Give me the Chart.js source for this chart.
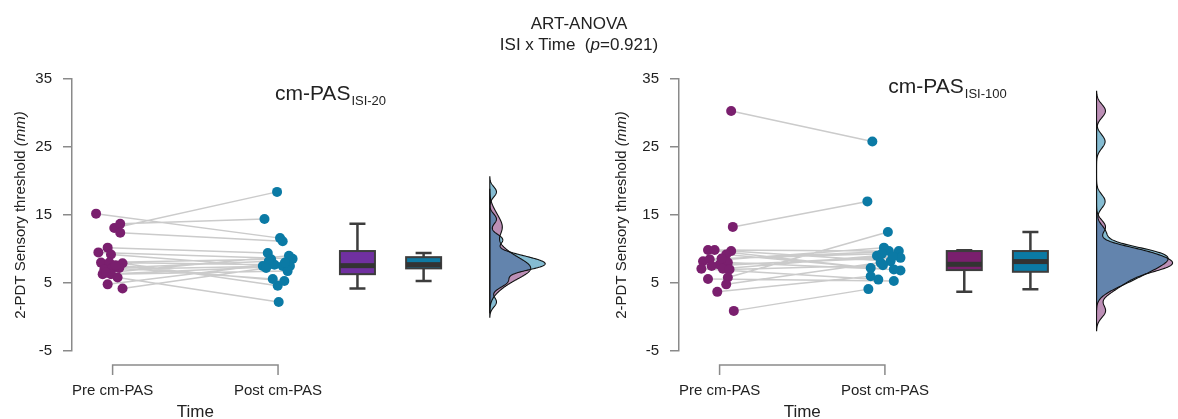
<!DOCTYPE html>
<html lang="en">
<head>
<meta charset="UTF-8">
<title>2-PDT cm-PAS</title>
<script src="https://cdn.jsdelivr.net/npm/chart.js@4.4.1/dist/chart.umd.min.js"></script>
<style>
body{margin:0;background:#fff;font-family:"Liberation Sans",Arial,sans-serif;}
#wrap{position:relative;width:1178px;height:419px;overflow:hidden;}
#title{position:absolute;left:0;width:1158px;top:13px;text-align:center;font-size:17px;line-height:21px;color:#222;}
canvas{position:absolute;top:0;}
</style>
</head>
<body>
<div id="wrap">
<canvas id="c1" width="600" height="419" style="left:0"></canvas>
<canvas id="c2" width="571" height="419" style="left:607px"></canvas>
<div id="title">ART-ANOVA<br>ISI x Time &nbsp;(<i>p</i>=0.921)</div>
</div>
<script>
const groups = ['Pre cm-PAS', 'Post cm-PAS'];
const yTicks = [-5, 5, 15, 25, 35];

// cm-PAS ISI-20, one entry per participant (pre[i] -> post[i])
const preIsi20  = [15.2, 13.1, 13.7, 12.4, 10.2, 9.5, 9.2, 8.0, 7.9, 8.0, 7.0, 7.2, 7.2, 6.3, 6.3, 6.5, 5.8, 4.8, 4.2, 7.6];
const postIsi20 = [11.6, 18.4, 14.4, 11.15, 9.4, 8.55, 7.5, 8.5, 4.6, 7.7, 7.5, 8.2, 5.6, 7.5, 6.75, 9.0, 2.2, 8.0, 7.2, 5.3];
const preIsi20Jit  = [-0.10, 0.01, 0.046, 0.046, -0.03, -0.086, -0.01, -0.07, 0.06, -0.02, -0.05, 0, 0.04, -0.06, -0.01, -0.04, 0.03, -0.03, 0.06, 0.018];
const postIsi20Jit = [0.012, -0.006, -0.082, 0.028, -0.062, 0.088, -0.092, -0.042, -0.002, -0.022, 0.028, -0.056, -0.032, 0.072, 0.058, 0.066, 0.004, 0.042, -0.072, 0.038];
// [lower whisker, q1, median, q3, upper whisker]
const boxPreIsi20  = [4.2, 6.3, 7.55, 9.7, 13.7];
const boxPostIsi20 = [5.3, 7.15, 7.7, 8.8, 9.4];

// cm-PAS ISI-100
const preIsi100  = [30.3, 13.25, 9.85, 9.85, 9.7, 9.2, 8.2, 8.5, 7.7, 8.0, 7.1, 7.1, 7.0, 5.6, 5.8, 4.8, 3.7, 0.9, 7.5, 8.6];
const postIsi100 = [25.8, 17.0, 7.2, 9.7, 8.2, 6.85, 10.2, 9.7, 8.7, 7.0, 5.5, 9.0, 7.6, 5.3, 12.5, 8.0, 6.0, 4.1, 8.9, 9.3];
const preIsi100Jit  = [0.07, 0.08, -0.07, -0.03, 0.07, 0.04, -0.10, -0.06, 0, 0.05, -0.11, 0.02, 0.06, -0.07, 0.05, 0.04, -0.014, 0.086, -0.048, 0.012];
const postIsi100Jit = [-0.076, -0.106, -0.086, 0.024, 0.034, 0.094, -0.006, 0.084, 0.094, 0.054, -0.04, -0.048, -0.012, 0.054, 0.018, -0.026, -0.086, -0.10, 0.048, -0.018];
const boxPreIsi100  = [3.73, 6.9, 7.75, 9.7, 9.8];
const boxPostIsi100 = [4.08, 6.65, 8.15, 9.7, 12.5];

const PLUM = '#7a1f6e', TEAL = '#0b7aa5', VIOLET = '#7030a0';
const FONT = '"Liberation Sans", Arial, sans-serif';
const X_PRE = 1, X_POST = 2, X_BOX_PRE = 2.48, X_BOX_POST = 2.88, X_DENS = 3.28;

function quantile(s, p) {
  const h = (s.length - 1) * p, lo = Math.floor(h);
  return s[lo] + (h - lo) * ((s[lo + 1] ?? s[lo]) - s[lo]);
}
// R default bandwidth (nrd0) and gaussian kde, cut = 3
function kde(v) {
  const n = v.length, m = v.reduce((a, b) => a + b) / n;
  const sd = Math.sqrt(v.reduce((a, b) => a + (b - m) ** 2, 0) / (n - 1));
  const s = [...v].sort((a, b) => a - b);
  const bw = 0.9 * Math.min(sd, (quantile(s, .75) - quantile(s, .25)) / 1.34) * Math.pow(n, -0.2);
  const lo = s[0] - 3 * bw, hi = s[n - 1] + 3 * bw, pts = [];
  for (let i = 0; i <= 400; i++) {
    const y = lo + (hi - lo) * i / 400;
    let d = 0;
    for (const x of v) d += Math.exp(-0.5 * ((y - x) / bw) ** 2);
    pts.push([y, d / (n * bw * Math.sqrt(2 * Math.PI))]);
  }
  return pts;
}

function drawBox(ctx, xs, ys, x, st, fill) {
  const cx = xs.getPixelForValue(x), hw = 17.5, cap = 8;
  const py = st.map(v => ys.getPixelForValue(v));
  ctx.strokeStyle = '#3d3d3d'; ctx.lineWidth = 2.5;
  ctx.beginPath();
  ctx.moveTo(cx, py[0]); ctx.lineTo(cx, py[1]);
  ctx.moveTo(cx, py[3]); ctx.lineTo(cx, py[4]);
  ctx.moveTo(cx - cap, py[0]); ctx.lineTo(cx + cap, py[0]);
  ctx.moveTo(cx - cap, py[4]); ctx.lineTo(cx + cap, py[4]);
  ctx.stroke();
  ctx.fillStyle = fill;
  ctx.fillRect(cx - hw, py[3], 2 * hw, py[1] - py[3]);
  ctx.lineWidth = 2;
  ctx.strokeRect(cx - hw, py[3], 2 * hw, py[1] - py[3]);
  ctx.fillStyle = '#333';
  ctx.fillRect(cx - hw, py[2] - 2.5, 2 * hw, 5);
}

function densPath(ctx, xs, ys, pts, k) {
  const b = xs.getPixelForValue(X_DENS);
  ctx.beginPath();
  ctx.moveTo(b, ys.getPixelForValue(pts[0][0]));
  for (const [v, d] of pts) ctx.lineTo(xs.getPixelForValue(X_DENS + d * k), ys.getPixelForValue(v));
  ctx.lineTo(b, ys.getPixelForValue(pts[pts.length - 1][0]));
  ctx.closePath();
}

const rainPlugin = {
  id: 'rain',
  afterDatasetsDraw(chart, args, o) {
    const ctx = chart.ctx, xs = chart.scales.x, ys = chart.scales.y;
    ctx.save();
    drawBox(ctx, xs, ys, X_BOX_PRE, o.boxPre, o.boxColors[0]);
    drawBox(ctx, xs, ys, X_BOX_POST, o.boxPost, o.boxColors[1]);
    const dPre = kde(o.pre), dPost = kde(o.post);
    const k = o.densSpan / Math.max(...dPre.map(p => p[1]), ...dPost.map(p => p[1]));
    densPath(ctx, xs, ys, dPre, k); ctx.fillStyle = 'rgba(122,31,110,0.5)'; ctx.fill();
    densPath(ctx, xs, ys, dPost, k); ctx.fillStyle = 'rgba(11,122,165,0.5)'; ctx.fill();
    ctx.strokeStyle = '#111'; ctx.lineWidth = 1.1;
    densPath(ctx, xs, ys, dPre, k); ctx.stroke();
    densPath(ctx, xs, ys, dPost, k); ctx.stroke();

    // bracket x axis
    const x1 = xs.getPixelForValue(X_PRE), x2 = xs.getPixelForValue(X_POST), yb = ys.bottom + 14;
    ctx.strokeStyle = '#8a8a8a'; ctx.lineWidth = 1.5;
    ctx.beginPath();
    ctx.moveTo(x1, yb + 10); ctx.lineTo(x1, yb); ctx.lineTo(x2, yb); ctx.lineTo(x2, yb + 10);
    ctx.stroke();
    ctx.fillStyle = '#222'; ctx.textAlign = 'center'; ctx.textBaseline = 'alphabetic';
    ctx.font = '15px ' + FONT;
    ctx.fillText(groups[0], x1, yb + 30);
    ctx.fillText(groups[1], x2, yb + 30);
    ctx.font = '17px ' + FONT;
    ctx.fillText('Time', (x1 + x2) / 2, yb + 52);

    // y title with italic unit
    ctx.save();
    ctx.translate(o.yLabelX, (ys.top + ys.bottom) / 2);
    ctx.rotate(-Math.PI / 2);
    ctx.textBaseline = 'middle'; ctx.textAlign = 'left';
    ctx.font = '15px ' + FONT;
    const a = '2-PDT Sensory threshold ', wa = ctx.measureText(a).width;
    ctx.font = 'italic 15px ' + FONT;
    const wb = ctx.measureText('(mm)').width;
    ctx.font = '15px ' + FONT;
    ctx.fillText(a, -(wa + wb) / 2, 0);
    ctx.font = 'italic 15px ' + FONT;
    ctx.fillText('(mm)', -(wa + wb) / 2 + wa, 0);
    ctx.restore();

    // panel title with subscript
    ctx.textAlign = 'left';
    ctx.font = '21px ' + FONT;
    const wt = ctx.measureText('cm-PAS').width;
    ctx.font = '13px ' + FONT;
    const ws = ctx.measureText(o.sub).width;
    const tx = o.titleX - (wt + ws) / 2;
    ctx.font = '21px ' + FONT;
    ctx.fillText('cm-PAS', tx, o.titleY);
    ctx.font = '13px ' + FONT;
    ctx.fillText(o.sub, tx + wt + 1, o.titleY + 5);
    ctx.restore();
  }
};

function pairs(pre, post, jp, jq) {
  const out = [];
  pre.forEach((v, i) => {
    out.push({x: X_PRE + jp[i], y: v}, {x: X_POST + jq[i], y: post[i]}, {x: 1.5, y: null});
  });
  return out;
}

function makeChart(id, d) {
  return new Chart(document.getElementById(id), {
    type: 'scatter',
    data: {datasets: [
      {type: 'line', data: pairs(d.pre, d.post, d.preJit, d.postJit), borderColor: '#cbcbcb', borderWidth: 1.5,
       pointRadius: 0, spanGaps: false, order: 3},
      {data: d.pre.map((v, i) => ({x: X_PRE + d.preJit[i], y: v})), backgroundColor: PLUM, borderWidth: 0, pointRadius: 5, order: 1},
      {data: d.post.map((v, i) => ({x: X_POST + d.postJit[i], y: v})), backgroundColor: TEAL, borderWidth: 0, pointRadius: 5, order: 2}
    ]},
    options: {
      responsive: false, animation: false, devicePixelRatio: 1,
      layout: {padding: {top: 79, bottom: 68, left: 0, right: 0}},
      plugins: {legend: {display: false}, tooltip: {enabled: false}, rain: d},
      scales: {
        x: {type: 'linear', display: false, min: 0.7545, max: d.xMax},
        y: {
          min: -5, max: 35,
          afterBuildTicks: s => { s.ticks = yTicks.map(v => ({value: v})); },
          ticks: {color: '#222', font: {size: 15, family: FONT}, padding: 11},
          grid: {drawOnChartArea: false, tickLength: 9, color: '#8a8a8a', lineWidth: 1.5},
          border: {color: '#8a8a8a', width: 1.5},
          afterFit: s => { s.width = 72; }
        }
      }
    },
    plugins: [rainPlugin]
  });
}

makeChart('c1', {pre: preIsi20, post: postIsi20, preJit: preIsi20Jit, postJit: postIsi20Jit,
  boxPre: boxPreIsi20, boxPost: boxPostIsi20, boxColors: [VIOLET, '#0e7aa3'],
  densSpan: 0.335, xMax: 3.916, sub: 'ISI-20', titleX: 330, titleY: 100, yLabelX: 21});
makeChart('c2', {pre: preIsi100, post: postIsi100, preJit: preIsi100Jit, postJit: postIsi100Jit,
  boxPre: boxPreIsi100, boxPost: boxPostIsi100, boxColors: [PLUM, TEAL],
  densSpan: 0.46, xMax: 3.7425, sub: 'ISI-100', titleX: 340, titleY: 93, yLabelX: 15});
</script>
</body>
</html>
